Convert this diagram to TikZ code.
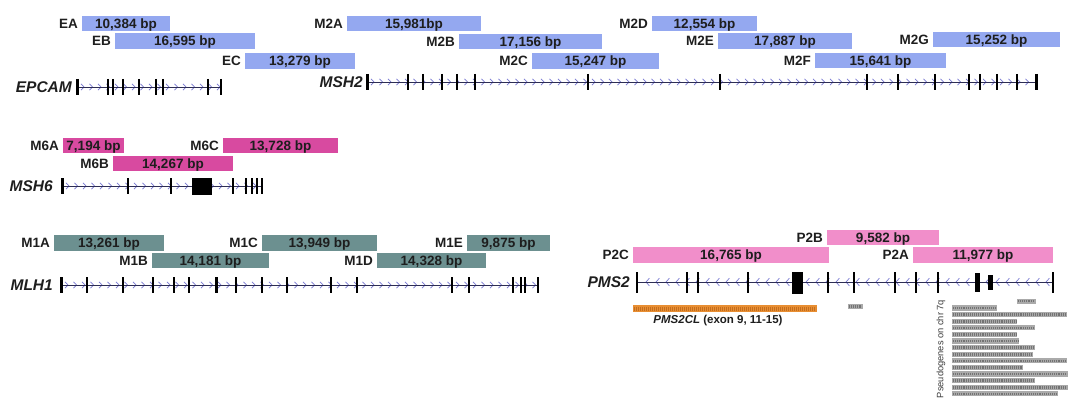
\documentclass[tikz,border=0pt]{standalone}
\usepackage{fontspec}
\setmainfont{Liberation Sans}
\usetikzlibrary{decorations.markings}
\definecolor{segblue}{RGB}{148,168,240}
\definecolor{segmag}{RGB}{216,74,160}
\definecolor{segpink}{RGB}{241,142,202}
\definecolor{segteal}{RGB}{108,144,144}
\definecolor{segorange}{RGB}{232,142,50}
\definecolor{segorangedk}{RGB}{196,110,30}
\definecolor{chevcol}{RGB}{120,120,210}
\definecolor{linecol}{RGB}{45,45,85}
\definecolor{txt}{RGB}{30,30,30}
\definecolor{pseudofill}{RGB}{170,170,170}
\definecolor{pseudotex}{RGB}{115,115,115}
\newcommand\seg[8]{%
  \pgfmathsetmacro\segw{#3-#2}\pgfmathsetmacro\segh{#5-#4}%
  \node[segbar, fill=#6, minimum width=\segw pt, minimum height=\segh pt] (#1) at (#2,#4) {#7};
  \node[seglab] (#1lab) at ([xshift=-4pt]#1.west) {#8};}
\newcommand\gene[6]{%
  \coordinate (#1s) at (#2,#4); \coordinate (#1e) at (#3,#4);
  \path[#6] (#1s) -- (#1e);
  \draw[gline] (#1s) -- (#1e);
  \node[genelab] (#1lab) at (#5,#4) {#1};}
\begin{document}
\begin{tikzpicture}[x=1pt,y=-1pt,
  segbar/.style={anchor=north west, inner sep=0pt, outer sep=0pt, text=txt, text height=9.6pt, text depth=0pt, font=\fontsize{13.5}{14}\selectfont\bfseries},
  seglab/.style={anchor=east, inner sep=0pt, text=txt, text height=9.6pt, text depth=0pt, font=\fontsize{13.5}{14}\selectfont\bfseries},
  genelab/.style={anchor=east, inner sep=0pt, text=txt, text height=11pt, text depth=0pt, font=\fontsize{15.5}{16}\selectfont\bfseries\itshape},
  gline/.style={draw=linecol, line width=0.8pt},
  chev/.style={draw=chevcol, line width=0.7pt},
  fwd/.style={postaction={decorate}, decoration={markings,
    mark=between positions 6pt and -3pt step 8.5pt with {\draw[chev] (-2pt,3.2pt) -- (1pt,0pt) -- (-2pt,-3.2pt);}}},
  bwd/.style={postaction={decorate}, decoration={markings,
    mark=between positions 6pt and -3pt step 10pt with {\draw[chev] (-2.4pt,3.8pt) -- (1pt,0pt) -- (-2.4pt,-3.8pt);}}},
  exon/.style={draw=black, line width=1.5pt},
  exonthick/.style={draw=black, line width=3pt},
  exonbox/.style={fill=black},
  pseudo/.style={fill=pseudofill},
  pseudotexline/.style={draw=pseudotex, line width=2.6pt, dash pattern=on 0.9pt off 1pt},
]
\fill[white] (0,0) rectangle (1080,404);
\useasboundingbox (0,0) rectangle (1080,404);

% ---------- EPCAM / MSH2 segments ----------
\seg{ea}{82}{170}{16}{31}{segblue}{10,384 bp}{EA}
\seg{eb}{115}{255}{33}{49}{segblue}{16,595 bp}{EB}
\seg{ec}{245}{355}{53}{69}{segblue}{13,279 bp}{EC}
\seg{m2a}{347}{481}{16}{31}{segblue}{15,981bp}{M2A}
\seg{m2b}{459}{602}{34}{49}{segblue}{17,156 bp}{M2B}
\seg{m2c}{532}{659}{53}{69}{segblue}{15,247 bp}{M2C}
\seg{m2d}{652}{757}{16}{31}{segblue}{12,554 bp}{M2D}
\seg{m2e}{718}{852}{33}{49}{segblue}{17,887 bp}{M2E}
\seg{m2f}{815}{946}{53}{68}{segblue}{15,641 bp}{M2F}
\seg{m2g}{933}{1060}{32}{47}{segblue}{15,252 bp}{M2G}

% ---------- MSH6 segments ----------
\seg{m6a}{63}{124}{138}{153}{segmag}{7,194 bp}{M6A}
\seg{m6c}{223}{338}{138}{153}{segmag}{13,728 bp}{M6C}
\seg{m6b}{113}{233}{156}{171}{segmag}{14,267 bp}{M6B}

% ---------- MLH1 segments ----------
\seg{m1a}{54}{164}{235}{251}{segteal}{13,261 bp}{M1A}
\seg{m1c}{262}{377}{235}{251}{segteal}{13,949 bp}{M1C}
\seg{m1e}{467}{550}{235}{251}{segteal}{9,875 bp}{M1E}
\seg{m1b}{152}{269}{253}{268}{segteal}{14,181 bp}{M1B}
\seg{m1d}{377}{486}{253}{268}{segteal}{14,328 bp}{M1D}

% ---------- PMS2 segments ----------
\seg{p2b}{827}{939}{230}{245}{segpink}{9,582 bp}{P2B}
\seg{p2c}{633}{829}{247}{263}{segpink}{16,765 bp}{P2C}
\seg{p2a}{913}{1053}{247}{263}{segpink}{11,977 bp}{P2A}

% ---------- gene models ----------
\gene{EPCAM}{77}{222}{87}{72}{fwd}
\draw[exonthick] (77,79) -- (77,95);
\foreach \t in {108,113,123,139,156,163,208,221} \draw[exon] (\t,79) -- (\t,95);

\gene{MSH2}{367}{1037}{82}{363}{fwd}
\draw[exonthick] (367,74) -- (367,90);
\draw[exonthick] (1036,74) -- (1036,90);
\foreach \t in {408,423,442,457,475,588,720,867,898,935,969,980,997,1017} \draw[exon] (\t,74) -- (\t,90);

\gene{MSH6}{62}{262}{186}{53}{fwd}
\draw[exonthick] (62,178) -- (62,194);
\foreach \t in {128,171,233,246,252,257,262} \draw[exon] (\t,178) -- (\t,194);
\fill[exonbox] (192,178) rectangle (212,195);

\gene{MLH1}{61}{538}{285}{53}{fwd}
\draw[exonthick] (61,277) -- (61,293);
\draw[exonthick] (216,277) -- (216,293);
\foreach \t in {87,123,153,174,189,236,262,287,331,357,452,469,513,521,525,538} \draw[exon] (\t,277) -- (\t,293);

\coordinate (PMS2s) at (637,282); \coordinate (PMS2e) at (1053,282);
\path[bwd] (PMS2e) -- (PMS2s);
\draw[gline] (PMS2s) -- (PMS2e);
\node[genelab] (PMS2lab) at (630,282) {PMS2};
\foreach \t in {637,687,698,748,828,854,895,916,938,1053} \draw[exon] (\t,272) -- (\t,293);
\fill[exonbox] (792,272) rectangle (803,294);
\fill[exonbox] (975,273) rectangle (980,292);
\fill[exonbox] (988,275) rectangle (993,290);

% ---------- PMS2CL ----------
\fill[segorange] (633,305) rectangle (817,312);
\draw[draw=segorangedk, line width=4pt, dash pattern=on 0.8pt off 1.2pt] (634,308.5) -- (816,308.5);
\node[inner sep=0pt, text=txt, font=\fontsize{11.5}{12}\selectfont\bfseries] (pcl) at (718,321) {\textit{PMS2CL} (exon 9, 11-15)};

% small gray box
\fill[pseudo] (848,304) rectangle (863,309);
\draw[pseudotexline] (849,306.5) -- (862,306.5);

% ---------- Pseudogenes on chr 7q ----------
\node[rotate=90, inner sep=0pt, text={rgb,255:red,60;green,60;blue,60}, font=\fontsize{9.3}{10}\selectfont] (pseudolab) at (941,349) {Pseudogenes on chr 7q};
\fill[pseudo] (1017,298.5) rectangle (1036,303.5);
\draw[pseudotexline] (1018,301) -- (1035,301);
\foreach \e [count=\i] in {997,1067,1017,1035,1017,1019,1035,1033,1067,1023,1068,1035,1068,1058} {
  \pgfmathsetmacro\yc{308+6.6*(\i-1)}
  \fill[pseudo] (952,\yc-2.6) rectangle (\e,\yc+2.6);
  \draw[pseudotexline] (953,\yc) -- (\e-1,\yc);
}
\end{tikzpicture}
\end{document}
